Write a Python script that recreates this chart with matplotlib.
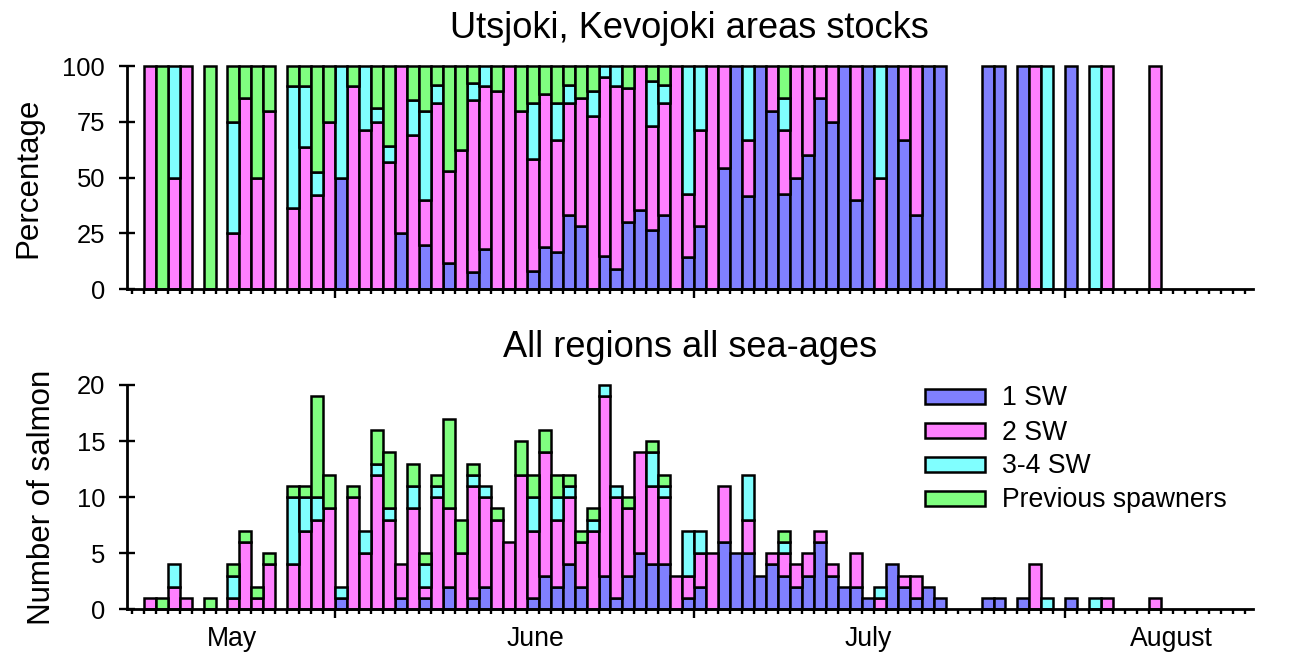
import matplotlib
matplotlib.use('Agg')
import matplotlib.pyplot as plt
import numpy as np
from matplotlib.patches import Rectangle
from matplotlib.transforms import blended_transform_factory

plt.rcParams['font.family'] = ['Liberation Sans', 'DejaVu Sans']

# ---------------- data (day index 0 = 15 May) ----------------
sw1 = [0, 0, 0, 0, 0, 0, 0, 0, 0, 0,
       0, 0, 0, 0, 0, 0, 0, 1, 0, 0,
       0, 0, 1, 0, 1, 0, 2, 0, 1, 2,
       0, 0, 0, 1, 3, 2, 4, 2, 0, 3,
       1, 3, 5, 4, 4, 0, 1, 2, 0, 6,
       5, 5, 3, 4, 3, 2, 3, 6, 3, 2,
       2, 1, 0, 4, 2, 1, 2, 1, 0, 0,
       0, 1, 1, 0, 1, 0, 0, 0, 1, 0,
       0, 0, 0, 0, 0, 0]
sw2 = [0, 1, 0, 2, 1, 0, 0, 0, 1, 6,
       1, 4, 0, 4, 7, 8, 9, 0, 10, 5,
       12, 8, 3, 9, 1, 10, 7, 5, 10, 8,
       8, 6, 12, 6, 11, 6, 6, 4, 7, 16,
       9, 6, 9, 7, 6, 3, 2, 3, 5, 5,
       0, 3, 0, 1, 2, 2, 2, 1, 1, 0,
       3, 0, 1, 0, 1, 2, 0, 0, 0, 0,
       0, 0, 0, 0, 0, 4, 0, 0, 0, 0,
       0, 1, 0, 0, 0, 1]
sw34 = [0, 0, 0, 2, 0, 0, 0, 0, 2, 0,
        0, 0, 0, 6, 3, 2, 0, 1, 0, 2,
        1, 1, 0, 2, 2, 1, 0, 0, 1, 1,
        0, 0, 0, 3, 0, 2, 1, 0, 1, 1,
        1, 0, 0, 3, 1, 0, 4, 2, 0, 0,
        0, 4, 0, 0, 1, 0, 0, 0, 0, 0,
        0, 0, 1, 0, 0, 0, 0, 0, 0, 0,
        0, 0, 0, 0, 0, 0, 1, 0, 0, 0,
        1, 0, 0, 0, 0, 0]
prev = [0, 0, 1, 0, 0, 0, 1, 0, 1, 1,
        1, 1, 0, 1, 1, 9, 3, 0, 1, 0,
        3, 5, 0, 2, 1, 1, 8, 3, 1, 0,
        1, 0, 3, 2, 2, 2, 1, 1, 1, 0,
        0, 1, 0, 1, 1, 0, 0, 0, 0, 0,
        0, 0, 0, 0, 1, 0, 0, 0, 0, 0,
        0, 0, 0, 0, 0, 0, 0, 0, 0, 0,
        0, 0, 0, 0, 0, 0, 0, 0, 0, 0,
        0, 0, 0, 0, 0, 0]
series_labels = ['1 SW', '2 SW', '3-4 SW', 'Previous spawners']
colors = ['#8080FF', '#FF80FF', '#80FFFF', '#80FF80']
month_labels = ['May', 'June', 'July', 'August']
month_label_pos = [8.4, 33.7, 61.5, 86.9]
month_start_days = [17, 47, 78]   # 1 June, 1 July, 1 August
n_days = 94
top_title = 'Utsjoki, Kevojoki areas stocks'
bottom_title = 'All regions all sea-ages'
top_ylabel = 'Percentage'
bottom_ylabel = 'Number of salmon'
top_yticks = [0, 25, 50, 75, 100]
bottom_yticks = [0, 5, 10, 15, 20]

# ---------------- figure ----------------
W, H = 1316, 655
fig = plt.figure(figsize=(W / 100, H / 100), dpi=100)


def axrect(l, t, r, b):
    return [l / W, 1 - b / H, (r - l) / W, (b - t) / H]


ax1 = fig.add_axes(axrect(126.7, 66, 1253, 289.3))
ax2 = fig.add_axes(axrect(126.7, 385, 1253, 609.3))

counts = np.array([sw1, sw2, sw34, prev], dtype=float)
x = np.arange(counts.shape[1]) + 0.5
totals = counts.sum(axis=0)
pct = np.divide(counts * 100.0, totals, out=np.zeros_like(counts), where=totals > 0)


def stacked(ax, data):
    bottom = np.zeros(data.shape[1])
    for vals, c in zip(data, colors):
        m = vals > 0
        ax.bar(x[m], vals[m], width=1.0, bottom=bottom[m], color=c,
               edgecolor='black', linewidth=1.8, clip_on=False, zorder=2)
        bottom = bottom + vals


stacked(ax1, pct)
stacked(ax2, counts)

tick_fs = 18.4
text_fs = 19.2
for ax, yt, ylim in ((ax1, top_yticks, 100), (ax2, bottom_yticks, 20)):
    ax.set_xlim(-0.42, 93.68)
    ax.set_ylim(0, ylim)
    for s in ('top', 'right'):
        ax.spines[s].set_visible(False)
    for s in ('left', 'bottom'):
        ax.spines[s].set_linewidth(2.0)
        ax.spines[s].set_zorder(3)
    ax.set_yticks(yt)
    ax.tick_params(axis='y', direction='inout', length=12, width=1.7,
                   labelsize=tick_fs, pad=9.6)
    ax.set_xticks(month_start_days)
    ax.set_xticks(np.arange(n_days), minor=True)
    ax.tick_params(axis='x', which='major', direction='out', length=6.5,
                   width=1.7, labelbottom=False)
    ax.tick_params(axis='x', which='minor', direction='out', length=3.4,
                   width=1.7)

ax1.set_title(top_title, fontsize=26.1, y=(289.3 - 38.3) / 223.3, pad=0)
ax2.set_title(bottom_title, fontsize=26.1, y=(609.3 - 357.3) / 224.3, pad=0)

fig.text(36.7 / W, 1 - 177.5 / H, top_ylabel, rotation=90, rotation_mode='anchor',
         ha='center', va='baseline', fontsize=22.5)
fig.text(50.0 / W, 1 - 497.2 / H, bottom_ylabel, rotation=90, rotation_mode='anchor',
         ha='center', va='baseline', fontsize=22.5)

trans = blended_transform_factory(ax2.transData, ax2.transAxes)
for lab, pos in zip(month_labels, month_label_pos):
    ax2.text(pos, (609.3 - 646) / 224.3, lab, transform=trans, ha='center',
             va='baseline', fontsize=text_fs)

# legend
row_centers = [396.3, 430.5, 464.2, 498.0]
ax_w, ax_h = 1253 - 126.7, 609.3 - 385
for lab, c, yc in zip(series_labels, colors, row_centers):
    ax2.add_patch(Rectangle(((925 - 126.7) / ax_w, (609.3 - yc - 7.5) / ax_h),
                            60 / ax_w, 15 / ax_h, transform=ax2.transAxes,
                            facecolor=c, edgecolor='black', linewidth=1.8,
                            clip_on=False, zorder=4))
    ax2.text((1001.7 - 126.7) / ax_w, (609.3 - yc - 9.1) / ax_h, lab,
             transform=ax2.transAxes, ha='left', va='baseline', fontsize=text_fs)

fig.savefig('out.png', dpi=100)
